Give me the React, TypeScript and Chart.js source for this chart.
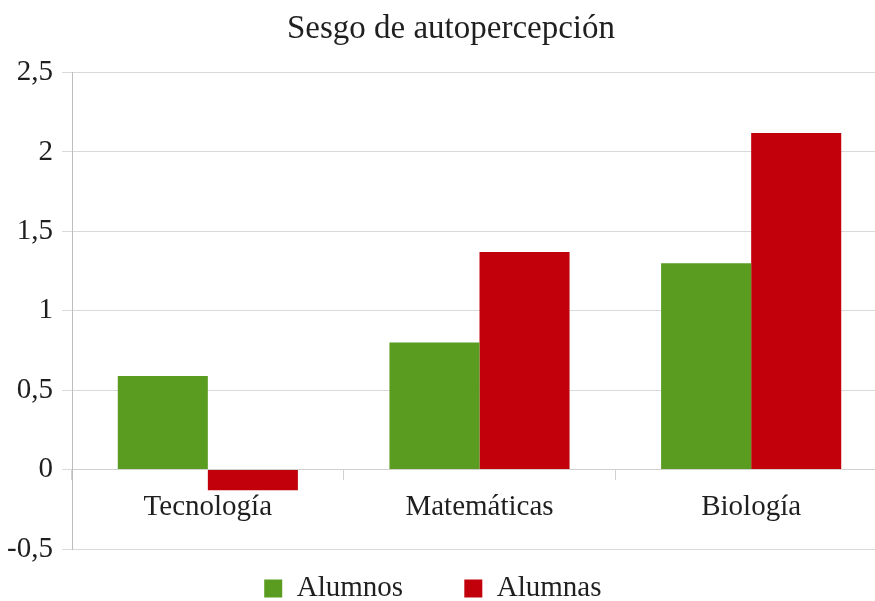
import React, { useEffect, useRef } from "react";
import { Chart, registerables } from "chart.js";

Chart.register(...registerables);

const titleText = "Sesgo de autopercepción";
const categories = ["Tecnología", "Matemáticas", "Biología"];
const seriesNames = ["Alumnos", "Alumnas"];
const alumnos = [0.59, 0.8, 1.3];
const alumnas = [-0.13, 1.37, 2.12];
const yMin = -0.5;
const yMax = 2.5;
const yStep = 0.5;

const FONT = "'Liberation Serif', 'Times New Roman', serif";
const TEXT = "#1f1f1f";

// let the y-axis tick labels use the left layout padding (avoid clipping "-0,5")
const unclipYLabels = {
  id: "unclipYLabels",
  afterLayout(chart: any) {
    if (chart.scales && chart.scales.y) chart.scales.y.left = 0;
  },
};

export default function App() {
  const ref = useRef<HTMLCanvasElement | null>(null);
  useEffect(() => {
    if (!ref.current) return;
    const chart = new Chart(ref.current, {
      type: "bar",
      data: {
        labels: categories,
        datasets: [
          { label: seriesNames[0], data: alumnos, backgroundColor: "#599c1f", borderWidth: 0 },
          { label: seriesNames[1], data: alumnas, backgroundColor: "#c2000b", borderWidth: 0 },
        ],
      },
      plugins: [unclipYLabels],
      options: {
        responsive: false,
        animation: false,
        devicePixelRatio: 1,
        layout: { padding: { left: 15, right: 15, top: 0, bottom: 0 } },
        datasets: { bar: { barPercentage: 1, categoryPercentage: 0.663 } },
        plugins: {
          title: {
            display: true,
            text: titleText,
            color: TEXT,
            font: { family: FONT, size: 33, weight: "normal" },
            padding: { top: 10, bottom: 23 },
          },
          legend: {
            position: "bottom",
            labels: {
              color: TEXT,
              font: { family: FONT, size: 29 },
              boxWidth: 18,
              boxHeight: 18,
              padding: 25,
              generateLabels: (c: any) => {
                const items = Chart.defaults.plugins.legend.labels.generateLabels(c);
                return items.map((it: any) => ({
                  ...it,
                  lineWidth: 0,
                  text: it.text + "     ",
                }));
              },
            },
          },
          tooltip: { enabled: false },
        },
        scales: {
          x: {
            position: { y: 0 } as any,
            grid: {
              display: true,
              drawOnChartArea: false,
              drawTicks: true,
              tickLength: 10,
              color: "#d0d0d0",
              offset: true,
            },
            border: { display: true, color: "#d0d0d0" },
            ticks: {
              color: TEXT,
              font: { family: FONT, size: 29 },
              padding: 10,
              maxRotation: 0,
            },
          },
          y: {
            min: yMin,
            max: yMax,
            afterFit: (s: any) => {
              s.width = 57;
            },
            grid: { color: "#d9d9d9", tickLength: 10 },
            border: { display: true, color: "#bdbdbd" },
            ticks: {
              stepSize: yStep,
              color: TEXT,
              font: { family: FONT, size: 29 },
              padding: 9,
              callback: (v: any) => String(v).replace(".", ","),
            },
          },
        },
      },
    });
    return () => chart.destroy();
  }, []);
  return (
    <div
      style={{
        position: "fixed",
        left: 0,
        top: 0,
        width: 875,
        height: 601,
        overflow: "hidden",
        background: "#fff",
      }}
    >
      <canvas ref={ref} width={902} height={613} />
    </div>
  );
}
